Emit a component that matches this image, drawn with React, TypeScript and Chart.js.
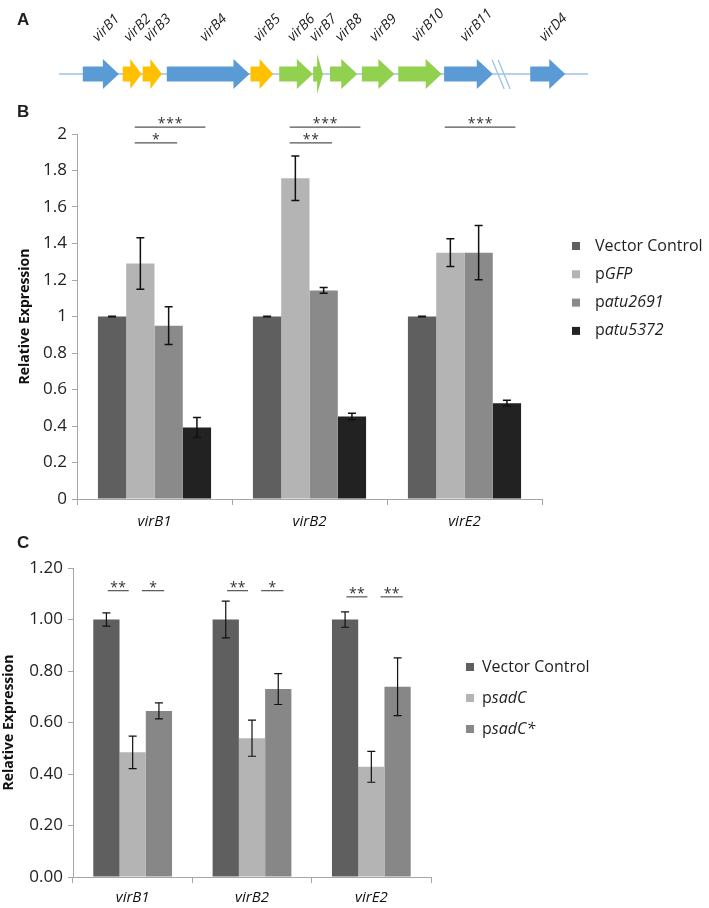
import React, { useEffect, useRef } from "react";
import { Chart, registerables } from "chart.js";
Chart.register(...registerables);

const SANS = '"Open Sans", "DejaVu Sans", sans-serif';
const ARIAL = '"Liberation Sans", Arial, sans-serif';
const AXIS = "#a6a6a6";
const INK = "#1e1e1e";

// ---------------- Panel A : vir operon map (positions in kb-like units) ----------------
const geneNames = ["virB1", "virB2", "virB3", "virB4", "virB5", "virB6", "virB7", "virB8", "virB9", "virB10", "virB11", "virD4"];
const geneStart = [0.68, 1.82, 2.39, 3.08, 5.47, 6.29, 7.26, 7.74, 8.65, 9.69, 11.0, 13.46];
const geneEnd = [1.71, 2.36, 2.94, 5.44, 6.12, 7.25, 7.54, 8.52, 9.58, 10.93, 12.39, 14.46];
const geneClass = ["blue", "yellow", "yellow", "blue", "yellow", "green", "green", "green", "green", "green", "blue", "blue"];
const locusEnd = 15.11;
const breakAt = 12.63;

// ---------------- Panel B ----------------
const categoriesB = ["virB1", "virB2", "virE2"];
const seriesB = ["Vector Control", "pGFP", "patu2691", "patu5372"];
const legendPlainB = ["Vector Control", "p", "p", "p"];
const legendItalicB = ["", "GFP", "atu2691", "atu5372"];
const vectorControlB = [1.0, 1.0, 1.0];
const pGFPB = [1.29, 1.757, 1.35];
const patu2691B = [0.95, 1.143, 1.35];
const patu5372B = [0.392, 0.452, 0.525];
const vectorControlErrB = [0.002, 0.002, 0.002];
const pGFPErrB = [0.141, 0.122, 0.076];
const patu2691ErrB = [0.104, 0.016, 0.148];
const patu5372ErrB = [0.055, 0.018, 0.016];
const sigCatB = [0, 0, 1, 1, 2];
const sigFromB = [1, 1, 1, 1, 1];
const sigToB = [3, 2, 3, 2, 3];
const sigLevelB = [1, 0, 1, 0, 1];
const sigLabelB = ["***", "*", "***", "**", "***"];

// ---------------- Panel C ----------------
const categoriesC = ["virB1", "virB2", "virE2"];
const seriesC = ["Vector Control", "psadC", "psadC*"];
const legendPlainC = ["Vector Control", "p", "p"];
const legendItalicC = ["", "sadC", "sadC*"];
const vectorControlC = [1.0, 1.0, 1.0];
const psadCC = [0.484, 0.539, 0.428];
const psadCStarC = [0.645, 0.73, 0.739];
const vectorControlErrC = [0.026, 0.071, 0.03];
const psadCErrC = [0.063, 0.07, 0.06];
const psadCStarErrC = [0.031, 0.06, 0.112];
const sigCatC = [0, 0, 1, 1, 2, 2];
const sigFromC = [0, 1, 0, 1, 0, 1];
const sigToC = [1, 2, 1, 2, 1, 2];
const sigLevelC = [0, 0, 0, 0, 1, 1];
const sigLabelC = ["**", "*", "**", "*", "**", "**"];

// ---------------- styles ----------------
const geneColors: Record<string, string> = { blue: "#5b9bd5", yellow: "#ffc000", green: "#92d050" };
const colorsB = ["#5f5f5f", "#b4b4b4", "#8a8a8a", "#222222"];
const colorsC = ["#5f5f5f", "#b4b4b4", "#878787"];

function buildA(canvas: HTMLCanvasElement) {
  const plugin = {
    id: "operon",
    afterDraw(chart: any) {
      const ctx = chart.ctx as CanvasRenderingContext2D;
      const xs = chart.scales.x;
      const cy = 74;
      ctx.save();
      ctx.fillStyle = INK;
      ctx.font = `bold 17px ${ARIAL}`;
      ctx.textBaseline = "alphabetic";
      ctx.fillText("A", 17, 25);
      // backbone
      ctx.strokeStyle = "#9dc3e6";
      ctx.lineWidth = 1.5;
      ctx.beginPath();
      ctx.moveTo(xs.getPixelForValue(0), cy);
      ctx.lineTo(xs.getPixelForValue(locusEnd), cy);
      ctx.stroke();
      // break
      const bx = xs.getPixelForValue(breakAt);
      ctx.strokeStyle = "#9dc3e6";
      ctx.lineWidth = 1.3;
      for (const off of [-3, 3]) {
        ctx.beginPath();
        ctx.moveTo(bx + off - 6, cy - 14);
        ctx.lineTo(bx + off + 6, cy + 15);
        ctx.stroke();
      }
      // genes
      for (let i = 0; i < geneNames.length; i++) {
        const x1 = xs.getPixelForValue(geneStart[i]);
        const x2 = xs.getPixelForValue(geneEnd[i]);
        const len = x2 - x1;
        const headLen = Math.min(16, 0.6 * len);
        const bodyHalf = 7.5;
        const headHalf = len < 12 ? 20 : 15;
        ctx.fillStyle = geneColors[geneClass[i]];
        ctx.beginPath();
        ctx.moveTo(x1, cy - bodyHalf);
        ctx.lineTo(x2 - headLen, cy - bodyHalf);
        ctx.lineTo(x2 - headLen, cy - headHalf);
        ctx.lineTo(x2, cy);
        ctx.lineTo(x2 - headLen, cy + headHalf);
        ctx.lineTo(x2 - headLen, cy + bodyHalf);
        ctx.lineTo(x1, cy + bodyHalf);
        ctx.closePath();
        ctx.fill();
        // label
        ctx.save();
        ctx.translate((x1 + x2) / 2 - 3, 42);
        ctx.rotate(-Math.PI / 4);
        ctx.fillStyle = "#1a1a1a";
        ctx.font = `italic 14px ${SANS}`;
        ctx.textAlign = "left";
        ctx.fillText(geneNames[i], 0, 0);
        ctx.restore();
      }
      ctx.restore();
    },
  };
  return new Chart(canvas, {
    type: "scatter",
    data: { datasets: [{ data: [] }] },
    options: {
      animation: false,
      responsive: false,
      layout: { padding: { left: 59, right: 121, top: 0, bottom: 0 } },
      plugins: { legend: { display: false }, tooltip: { enabled: false } },
      scales: {
        x: { type: "linear", min: 0, max: locusEnd, display: false },
        y: { min: 0, max: 1, display: false },
      },
    },
    plugins: [plugin],
  } as any);
}

type PanelCfg = {
  letter: string;
  letterPos: [number, number];
  categories: string[];
  series: string[];
  values: number[][];
  errors: number[][];
  colors: string[];
  legendPlain: string[];
  legendItalic: string[];
  legendX: number;
  legendTextX: number;
  legendY0: number;
  legendDy: number;
  sigCat: number[];
  sigFrom: number[];
  sigTo: number[];
  sigLevel: number[];
  sigLabel: string[];
  sigLevels: number[];
  sigSpan: (a: number, b: number) => [number, number];
  starGap: number;
  yMax: number;
  yStep: number;
  yFmt: (v: number) => string;
  padTop: number;
  padRight: number;
  yWidth: number;
  xHeight: number;
  xPad: number;
  titlePad: number;
  catPct: number;
  errWidth: number;
};

function buildBar(canvas: HTMLCanvasElement, c: PanelCfg) {
  const plugin = {
    id: "extras",
    afterDatasetsDraw(chart: any) {
      const ctx = chart.ctx as CanvasRenderingContext2D;
      const ys = chart.scales.y;
      ctx.save();
      // error bars
      ctx.strokeStyle = "#111";
      ctx.lineWidth = c.errWidth;
      c.values.forEach((vals, di) => {
        const meta = chart.getDatasetMeta(di);
        meta.data.forEach((el: any, j: number) => {
          const x = el.x;
          const t = ys.getPixelForValue(vals[j] + c.errors[di][j]);
          const b = ys.getPixelForValue(vals[j] - c.errors[di][j]);
          ctx.beginPath();
          ctx.moveTo(x, t);
          ctx.lineTo(x, b);
          ctx.moveTo(x - 4, t);
          ctx.lineTo(x + 4, t);
          ctx.moveTo(x - 4, b);
          ctx.lineTo(x + 4, b);
          ctx.stroke();
        });
      });
      // significance
      for (let k = 0; k < c.sigCat.length; k++) {
        const ea = chart.getDatasetMeta(c.sigFrom[k]).data[c.sigCat[k]];
        const eb = chart.getDatasetMeta(c.sigTo[k]).data[c.sigCat[k]];
        const w = ea.width;
        const [oa, ob] = c.sigSpan(c.sigFrom[k], c.sigTo[k]);
        const x1 = ea.x + oa * w;
        const x2 = eb.x + ob * w;
        const y = ys.getPixelForValue(c.sigLevels[c.sigLevel[k]]);
        ctx.strokeStyle = "#555";
        ctx.lineWidth = 1.2;
        ctx.beginPath();
        ctx.moveTo(x1, y);
        ctx.lineTo(x2, y);
        ctx.stroke();
        const n = c.sigLabel[k].length;
        const mid = (x1 + x2) / 2;
        ctx.fillStyle = "#333";
        ctx.font = `14px ${SANS}`;
        ctx.textAlign = "center";
        ctx.textBaseline = "alphabetic";
        for (let s = 0; s < n; s++) {
          ctx.fillText("*", mid + (s - (n - 1) / 2) * c.starGap, y + 1);
        }
      }
      // legend
      ctx.textBaseline = "middle";
      ctx.textAlign = "left";
      c.series.forEach((_, i) => {
        const yc = c.legendY0 + i * c.legendDy;
        ctx.fillStyle = c.colors[i];
        ctx.fillRect(c.legendX, yc - 4, 8, 8);
        ctx.fillStyle = INK;
        ctx.font = `16px ${SANS}`;
        let x = c.legendTextX;
        ctx.fillText(c.legendPlain[i], x, yc);
        x += ctx.measureText(c.legendPlain[i]).width;
        if (c.legendItalic[i]) {
          ctx.font = `italic 16px ${SANS}`;
          ctx.fillText(c.legendItalic[i], x, yc);
        }
      });
      // panel letter
      ctx.fillStyle = INK;
      ctx.font = `bold 17px ${ARIAL}`;
      ctx.textBaseline = "alphabetic";
      ctx.fillText(c.letter, c.letterPos[0], c.letterPos[1]);
      ctx.restore();
    },
  };
  return new Chart(canvas, {
    type: "bar",
    data: {
      labels: c.categories,
      datasets: c.series.map((name, i) => ({
        label: name,
        data: c.values[i],
        backgroundColor: c.colors[i],
        borderWidth: 0,
        barPercentage: 1,
        categoryPercentage: c.catPct,
      })),
    },
    options: {
      animation: false,
      responsive: false,
      layout: { padding: { left: 0, right: c.padRight, top: c.padTop, bottom: 0 } },
      plugins: { legend: { display: false }, tooltip: { enabled: false } },
      scales: {
        x: {
          afterFit: (s: any) => {
            s.height = c.xHeight;
          },
          border: { color: AXIS, width: 1 },
          grid: { drawOnChartArea: false, tickLength: 6, color: AXIS, offset: true },
          ticks: { color: "#111", padding: c.xPad, font: { family: SANS, size: 15, style: "italic" } },
        },
        y: {
          min: 0,
          max: c.yMax,
          afterFit: (s: any) => {
            s.width = c.yWidth;
          },
          border: { color: AXIS, width: 1 },
          grid: { drawOnChartArea: false, tickLength: 5, color: AXIS },
          ticks: {
            stepSize: c.yStep,
            padding: 5,
            color: "#222",
            font: { family: SANS, size: 17 },
            callback: (v: any) => c.yFmt(Number(v)),
          },
          title: {
            display: true,
            text: "Relative Expression",
            color: "#111",
            font: { family: SANS, size: 14, weight: "bold" },
            padding: { top: c.titlePad, bottom: 0 },
          },
        },
      },
    },
    plugins: [plugin],
  } as any);
}

function buildB(canvas: HTMLCanvasElement) {
  return buildBar(canvas, {
    letter: "B",
    letterPos: [17, 22],
    categories: categoriesB,
    series: seriesB,
    values: [vectorControlB, pGFPB, patu2691B, patu5372B],
    errors: [vectorControlErrB, pGFPErrB, patu2691ErrB, patu5372ErrB],
    colors: colorsB,
    legendPlain: legendPlainB,
    legendItalic: legendItalicB,
    legendX: 572,
    legendTextX: 595,
    legendY0: 151,
    legendDy: 28.3,
    sigCat: sigCatB,
    sigFrom: sigFromB,
    sigTo: sigToB,
    sigLevel: sigLevelB,
    sigLabel: sigLabelB,
    sigLevels: [1.951, 2.038],
    sigSpan: () => [-0.2, 0.3],
    starGap: 8.5,
    yMax: 2,
    yStep: 0.2,
    yFmt: (v) => String(Math.round(v * 10) / 10),
    padTop: 39,
    padRight: 167,
    yWidth: 77,
    xHeight: 36,
    xPad: 8,
    titlePad: 17,
    catPct: 0.73,
    errWidth: 1.5,
  });
}

function buildC(canvas: HTMLCanvasElement) {
  return buildBar(canvas, {
    letter: "C",
    letterPos: [17, 18],
    categories: categoriesC,
    series: seriesC,
    values: [vectorControlC, psadCC, psadCStarC],
    errors: [vectorControlErrC, psadCErrC, psadCStarErrC],
    colors: colorsC,
    legendPlain: legendPlainC,
    legendItalic: legendItalicC,
    legendX: 466,
    legendTextX: 482,
    legendY0: 137,
    legendDy: 31,
    sigCat: sigCatC,
    sigFrom: sigFromC,
    sigTo: sigToC,
    sigLevel: sigLevelC,
    sigLabel: sigLabelC,
    sigLevels: [1.112, 1.088],
    sigSpan: (a) => (a === 0 ? [0.05, -0.15] : [0.35, 0.2]),
    starGap: 8,
    yMax: 1.2,
    yStep: 0.2,
    yFmt: (v) => v.toFixed(2),
    padTop: 38,
    padRight: 278,
    yWidth: 73,
    xHeight: 31,
    xPad: 6,
    titlePad: 1,
    catPct: 0.66,
    errWidth: 1.2,
  });
}

function Panel({ top, height, build }: { top: number; height: number; build: (c: HTMLCanvasElement) => Chart }) {
  const ref = useRef<HTMLCanvasElement>(null);
  useEffect(() => {
    const chart = build(ref.current!);
    return () => chart.destroy();
  }, []);
  return (
    <canvas
      ref={ref}
      width={709}
      height={height}
      style={{ position: "absolute", left: 0, top, width: 709, height, display: "block" }}
    />
  );
}

export default function App() {
  return (
    <div style={{ position: "absolute", left: 0, top: 0, width: 709, height: 908, background: "#ffffff", overflow: "hidden" }}>
      <Panel top={0} height={95} build={buildA} />
      <Panel top={95} height={440} build={buildB} />
      <Panel top={530} height={378} build={buildC} />
    </div>
  );
}
